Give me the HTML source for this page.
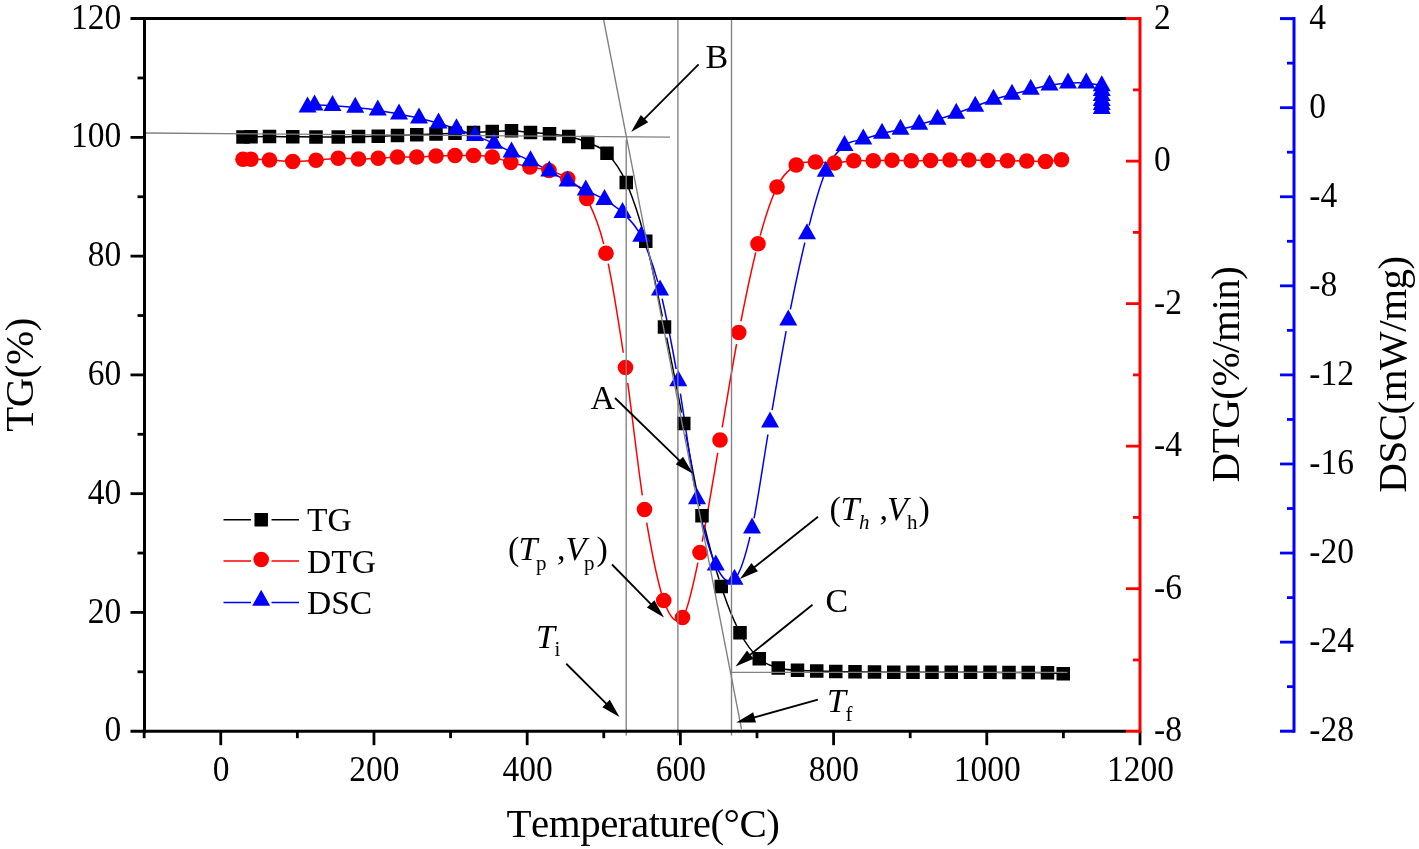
<!DOCTYPE html>
<html lang="en"><head><meta charset="utf-8"><title>TG / DTG / DSC curves</title>
<style>html,body{margin:0;padding:0;background:#fff;overflow:hidden}body{width:1419px;height:849px;font-family:"Liberation Serif", serif}</style></head>
<body>
<svg width="1419" height="849" viewBox="0 0 1419 849" style="display:block;will-change:transform;font-family:'Liberation Serif', serif">
<rect width="1419" height="849" fill="#fff"/>
<path d="M243 137C244.33 136.96 246.58 136.83 251 136.75M251 136.75C255.42 136.67 262.54 136.5 269.5 136.5M269.5 136.5C276.46 136.5 285 136.67 292.75 136.75M292.75 136.75C300.5 136.83 308.42 136.96 316 137M316 137C323.58 137.04 331.17 137.08 338.25 137M338.25 137C345.33 136.92 351.83 136.62 358.5 136.5M358.5 136.5C365.17 136.38 371.75 136.42 378.25 136.25M378.25 136.25C384.75 136.08 391.08 135.75 397.5 135.5M397.5 135.5C403.92 135.25 410.33 135 416.75 134.75M416.75 134.75C423.17 134.5 429.62 134.25 436 134M436 134C442.38 133.75 448.75 133.5 455 133.25M455 133.25C461.25 133 467.29 132.79 473.5 132.5M473.5 132.5C479.71 132.21 485.92 131.79 492.25 131.5M492.25 131.5C498.58 131.21 505.12 130.58 511.5 130.75M511.5 130.75C517.88 130.92 524.17 132 530.5 132.5M530.5 132.5C536.83 133 543.12 133.08 549.5 133.75M549.5 133.75C555.88 134.42 562.38 135.04 568.75 136.5M568.75 136.5C575.12 137.96 581.38 139.71 587.75 142.5M587.75 142.5C594.12 145.29 600.58 146.58 607 153.25M607 153.25C613.42 159.92 619.79 167.83 626.25 182.5M628.49 187.77C633.49 199.99 638.58 215.3 643.54 233.11M647.94 249.83C652.79 269.57 657.49 293.03 662.33 316.5M666.7 337.64C671.63 361.71 676.7 387.82 681.58 412.53M685.89 434.43C690.62 458.94 695.13 484.16 699.86 506.13M704.17 525C709.05 545.35 714.12 563.78 719.05 579.59M723.43 593.04C728.26 607.23 732.99 618.72 737.82 628.49M740 632.75C746.33 644.79 752.88 652.88 759.25 658.75M759.25 658.75C765.62 664.62 771.88 666.08 778.25 668M778.25 668C784.62 669.92 791.08 669.75 797.5 670.25M797.5 670.25C803.92 670.75 810.38 670.79 816.75 671M816.75 671C823.12 671.21 829.38 671.38 835.75 671.5M835.75 671.5C842.12 671.62 848.54 671.67 855 671.75M855 671.75C861.46 671.83 868.04 671.92 874.5 672M874.5 672C880.96 672.08 887.33 672.21 893.75 672.25M893.75 672.25C900.17 672.29 906.62 672.25 913 672.25M913 672.25C919.38 672.25 925.62 672.25 932 672.25M932 672.25C938.38 672.25 944.83 672.25 951.25 672.25M951.25 672.25C957.67 672.25 964.04 672.25 970.5 672.25M970.5 672.25C976.96 672.25 983.58 672.21 990 672.25M990 672.25C996.42 672.29 1002.62 672.46 1009 672.5M1009 672.5C1015.38 672.54 1021.83 672.46 1028.25 672.5M1028.25 672.5C1034.67 672.54 1041.67 672.54 1047.5 672.75M1047.5 672.75C1053.33 672.96 1060.62 673.58 1063.25 673.75" fill="none" stroke="#000" stroke-width="1.5"/>
<path d="M243 159.25C244.33 159.25 246.58 159.12 251 159.25M251 159.25C255.42 159.38 262.54 159.62 269.5 160M269.5 160C276.46 160.38 285 161.46 292.75 161.5M292.75 161.5C300.5 161.54 308.42 160.79 316 160.25M316 160.25C323.58 159.71 331.17 158.46 338.25 158.25M338.25 158.25C345.33 158.04 351.83 159 358.5 159M358.5 159C365.17 159 371.75 158.58 378.25 158.25M378.25 158.25C384.75 157.92 391.08 157.21 397.5 157M397.5 157C403.92 156.79 410.33 157.17 416.75 157M416.75 157C423.17 156.83 429.62 156.25 436 156M436 156C442.38 155.75 448.75 155.58 455 155.5M455 155.5C461.25 155.42 467.29 155.25 473.5 155.5M473.5 155.5C479.71 155.75 486.04 155.83 492.25 157M492.25 157C498.46 158.17 504.46 160.83 510.75 162.5M510.75 162.5C517.04 164.17 523.62 165.67 530 167M530 167C536.38 168.33 542.71 168.54 549 170.5M549 170.5C555.29 172.46 561.46 174.08 567.75 178.75M567.75 178.75C574.04 183.42 580.38 186.08 586.75 198.5M588.95 202.87C593.87 212.87 598.81 224.74 603.77 244.07M608.23 263.55C613.23 287.77 618.3 319.92 623.28 352.76M627.71 382.88C632.61 418.51 637.42 461.97 642.31 495.3M646.71 522.69C651.64 551.65 656.65 577.06 661.56 593.67M663.75 600.5C670.08 618.5 676.46 625.5 682.5 617.5M684.55 614C689.08 604.57 693.24 584.81 697.88 562.59M702.19 541.67C707.17 516.21 712.64 482.65 717.74 452.99M722.21 427.3C727.1 398.88 731.76 370.06 736.58 343.99M740.94 321.26C745.85 296.31 750.86 272.35 755.79 252.41M760.19 235.58C765.08 217.78 769.92 202.97 774.81 191.77M777 187C783.38 173.88 789.83 169.17 796.25 165M796.25 165C802.67 160.83 809.12 162.33 815.5 162M815.5 162C821.88 161.67 828.12 163.21 834.5 163M834.5 163C840.88 162.79 847.29 161.12 853.75 160.75M853.75 160.75C860.21 160.38 866.88 160.83 873.25 160.75M873.25 160.75C879.62 160.67 885.67 160.25 892 160.25M892 160.25C898.33 160.25 904.83 160.71 911.25 160.75M911.25 160.75C917.67 160.79 924.04 160.62 930.5 160.5M930.5 160.5C936.96 160.38 943.62 160.08 950 160M950 160C956.38 159.92 962.42 159.92 968.75 160M968.75 160C975.08 160.08 981.54 160.38 988 160.5M988 160.5C994.46 160.62 1001.04 160.67 1007.5 160.75M1007.5 160.75C1013.96 160.83 1020.42 160.88 1026.75 161M1026.75 161C1033.08 161.12 1039.71 161.71 1045.5 161.5M1045.5 161.5C1051.29 161.29 1058.83 160.04 1061.5 159.75" fill="none" stroke="#f00" stroke-width="1.5"/>
<path d="M307.5 107.17C308.67 106.83 310.33 105.42 314.5 105.17M314.5 105.17C318.67 104.92 325.71 105.29 332.5 105.67M332.5 105.67C339.29 106.04 347.71 106.67 355.25 107.42M355.25 107.42C362.79 108.17 370.46 109.04 377.75 110.17M377.75 110.17C385.04 111.29 392.12 112.83 399 114.17M399 114.17C405.88 115.5 412.42 116.67 419 118.17M419 118.17C425.58 119.67 432.25 121.38 438.5 123.17M438.5 123.17C444.75 124.96 450.42 126.83 456.5 128.92M456.5 128.92C462.58 131 468.75 133.25 475 135.67M475 135.67C481.25 138.08 487.92 140.67 494 143.42M494 143.42C500.08 146.17 505.42 149.25 511.5 152.17M511.5 152.17C517.58 155.08 524.21 157.75 530.5 160.92M530.5 160.92C536.79 164.08 543.08 167.79 549.25 171.17M549.25 171.17C555.42 174.54 561.42 178 567.5 181.17M567.5 181.17C573.58 184.33 579.58 187.08 585.75 190.17M585.75 190.17C591.92 193.25 598.38 195.92 604.5 199.67M604.5 199.67C610.62 203.42 616.38 206.54 622.5 212.67M622.5 212.67C628.62 218.79 635 223.5 641.25 236.42M643.41 241.03C648.23 251.69 653.09 264.86 657.87 282.14M662.12 298.78C666.83 318.65 671.42 342.81 676.13 369.04M680.38 393.56C685.16 423.09 690.02 460.42 694.84 487.52M699.16 509.17C703.97 531.29 708.78 548.32 713.59 560.19M715.75 565.17C722 578.58 728.46 585.58 734.5 579.42M736.57 576.79C741.14 569.85 745.47 555.74 749.97 536.91M754.05 518.42C758.62 495.19 763.27 462.74 767.92 434.5M772.08 410.16C776.74 383.3 781.4 356.07 786.13 331.16M790.38 309.4C795.16 285.51 800.02 262.66 804.84 242.67M809.16 225.44C813.97 206.74 818.78 189.54 823.59 176.81M825.75 171.42C832 156.71 838.25 151.04 844.5 145.67M844.5 145.67C850.75 140.29 857 141.21 863.25 139.17M863.25 139.17C869.5 137.12 875.79 135.04 882 133.42M882 133.42C888.21 131.79 894.29 130.92 900.5 129.42M900.5 129.42C906.71 127.92 913.08 126.08 919.25 124.42M919.25 124.42C925.42 122.75 931.33 121.25 937.5 119.42M937.5 119.42C943.67 117.58 949.96 115.58 956.25 113.42M956.25 113.42C962.54 111.25 969.04 108.75 975.25 106.42M975.25 106.42C981.46 104.08 987.38 101.42 993.5 99.42M993.5 99.42C999.62 97.42 1005.79 96.08 1012 94.42M1012 94.42C1018.21 92.75 1024.5 90.96 1030.75 89.42M1030.75 89.42C1037 87.88 1043.29 86.21 1049.5 85.17M1049.5 85.17C1055.71 84.12 1061.88 83.5 1068 83.17M1068 83.17C1074.12 82.83 1080.62 82.71 1086.25 83.17M1086.25 83.17C1091.88 83.62 1099.17 84.67 1101.75 85.92M1101.75 85.92C1104.33 87.17 1101.75 89.04 1101.75 90.67M1101.75 90.67C1101.75 92.29 1101.75 94 1101.75 95.67M1101.75 95.67C1101.75 97.33 1101.75 99.17 1101.75 100.67M1101.75 100.67C1101.75 102.17 1101.75 103.33 1101.75 104.67M1101.75 104.67C1101.75 106 1101.75 108 1101.75 108.67" fill="none" stroke="#00f" stroke-width="1.5"/>
<g fill="#000"><rect x="236.25" y="130.25" width="13.5" height="13.5"/><rect x="244.25" y="130" width="13.5" height="13.5"/><rect x="262.75" y="129.75" width="13.5" height="13.5"/><rect x="286" y="130" width="13.5" height="13.5"/><rect x="309.25" y="130.25" width="13.5" height="13.5"/><rect x="331.5" y="130.25" width="13.5" height="13.5"/><rect x="351.75" y="129.75" width="13.5" height="13.5"/><rect x="371.5" y="129.5" width="13.5" height="13.5"/><rect x="390.75" y="128.75" width="13.5" height="13.5"/><rect x="410" y="128" width="13.5" height="13.5"/><rect x="429.25" y="127.25" width="13.5" height="13.5"/><rect x="448.25" y="126.5" width="13.5" height="13.5"/><rect x="466.75" y="125.75" width="13.5" height="13.5"/><rect x="485.5" y="124.75" width="13.5" height="13.5"/><rect x="504.75" y="124" width="13.5" height="13.5"/><rect x="523.75" y="125.75" width="13.5" height="13.5"/><rect x="542.75" y="127" width="13.5" height="13.5"/><rect x="562" y="129.75" width="13.5" height="13.5"/><rect x="581" y="135.75" width="13.5" height="13.5"/><rect x="600.25" y="146.5" width="13.5" height="13.5"/><rect x="619.5" y="175.75" width="13.5" height="13.5"/><rect x="639" y="234.5" width="13.5" height="13.5"/><rect x="657.75" y="320.25" width="13.5" height="13.5"/><rect x="677" y="416.75" width="13.5" height="13.5"/><rect x="695.25" y="509" width="13.5" height="13.5"/><rect x="714.5" y="579.75" width="13.5" height="13.5"/><rect x="733.25" y="626" width="13.5" height="13.5"/><rect x="752.5" y="652" width="13.5" height="13.5"/><rect x="771.5" y="661.25" width="13.5" height="13.5"/><rect x="790.75" y="663.5" width="13.5" height="13.5"/><rect x="810" y="664.25" width="13.5" height="13.5"/><rect x="829" y="664.75" width="13.5" height="13.5"/><rect x="848.25" y="665" width="13.5" height="13.5"/><rect x="867.75" y="665.25" width="13.5" height="13.5"/><rect x="887" y="665.5" width="13.5" height="13.5"/><rect x="906.25" y="665.5" width="13.5" height="13.5"/><rect x="925.25" y="665.5" width="13.5" height="13.5"/><rect x="944.5" y="665.5" width="13.5" height="13.5"/><rect x="963.75" y="665.5" width="13.5" height="13.5"/><rect x="983.25" y="665.5" width="13.5" height="13.5"/><rect x="1002.25" y="665.75" width="13.5" height="13.5"/><rect x="1021.5" y="665.75" width="13.5" height="13.5"/><rect x="1040.75" y="666" width="13.5" height="13.5"/><rect x="1056.5" y="667" width="13.5" height="13.5"/></g>
<g fill="#f00"><circle cx="243" cy="159.25" r="7.8"/><circle cx="251" cy="159.25" r="7.8"/><circle cx="269.5" cy="160" r="7.8"/><circle cx="292.75" cy="161.5" r="7.8"/><circle cx="316" cy="160.25" r="7.8"/><circle cx="338.25" cy="158.25" r="7.8"/><circle cx="358.5" cy="159" r="7.8"/><circle cx="378.25" cy="158.25" r="7.8"/><circle cx="397.5" cy="157" r="7.8"/><circle cx="416.75" cy="157" r="7.8"/><circle cx="436" cy="156" r="7.8"/><circle cx="455" cy="155.5" r="7.8"/><circle cx="473.5" cy="155.5" r="7.8"/><circle cx="492.25" cy="157" r="7.8"/><circle cx="510.75" cy="162.5" r="7.8"/><circle cx="530" cy="167" r="7.8"/><circle cx="549" cy="170.5" r="7.8"/><circle cx="567.75" cy="178.75" r="7.8"/><circle cx="586.75" cy="198.5" r="7.8"/><circle cx="606" cy="253.25" r="7.8"/><circle cx="625.5" cy="367.5" r="7.8"/><circle cx="644.5" cy="509.5" r="7.8"/><circle cx="663.75" cy="600.5" r="7.8"/><circle cx="682.5" cy="617.5" r="7.8"/><circle cx="700" cy="552.5" r="7.8"/><circle cx="720" cy="440" r="7.8"/><circle cx="738.75" cy="332.5" r="7.8"/><circle cx="758" cy="243.75" r="7.8"/><circle cx="777" cy="187" r="7.8"/><circle cx="796.25" cy="165" r="7.8"/><circle cx="815.5" cy="162" r="7.8"/><circle cx="834.5" cy="163" r="7.8"/><circle cx="853.75" cy="160.75" r="7.8"/><circle cx="873.25" cy="160.75" r="7.8"/><circle cx="892" cy="160.25" r="7.8"/><circle cx="911.25" cy="160.75" r="7.8"/><circle cx="930.5" cy="160.5" r="7.8"/><circle cx="950" cy="160" r="7.8"/><circle cx="968.75" cy="160" r="7.8"/><circle cx="988" cy="160.5" r="7.8"/><circle cx="1007.5" cy="160.75" r="7.8"/><circle cx="1026.75" cy="161" r="7.8"/><circle cx="1045.5" cy="161.5" r="7.8"/><circle cx="1061.5" cy="159.75" r="7.8"/></g>
<g fill="#00f"><path d="M307.5 96.5L316.5 112.5H298.5Z"/><path d="M314.5 94.5L323.5 110.5H305.5Z"/><path d="M332.5 95L341.5 111H323.5Z"/><path d="M355.25 96.75L364.25 112.75H346.25Z"/><path d="M377.75 99.5L386.75 115.5H368.75Z"/><path d="M399 103.5L408 119.5H390Z"/><path d="M419 107.5L428 123.5H410Z"/><path d="M438.5 112.5L447.5 128.5H429.5Z"/><path d="M456.5 118.25L465.5 134.25H447.5Z"/><path d="M475 125L484 141H466Z"/><path d="M494 132.75L503 148.75H485Z"/><path d="M511.5 141.5L520.5 157.5H502.5Z"/><path d="M530.5 150.25L539.5 166.25H521.5Z"/><path d="M549.25 160.5L558.25 176.5H540.25Z"/><path d="M567.5 170.5L576.5 186.5H558.5Z"/><path d="M585.75 179.5L594.75 195.5H576.75Z"/><path d="M604.5 189L613.5 205H595.5Z"/><path d="M622.5 202L631.5 218H613.5Z"/><path d="M641.25 225.75L650.25 241.75H632.25Z"/><path d="M660 279.5L669 295.5H651Z"/><path d="M678.25 370.25L687.25 386.25H669.25Z"/><path d="M697 488.25L706 504.25H688Z"/><path d="M715.75 554.5L724.75 570.5H706.75Z"/><path d="M734.5 568.75L743.5 584.75H725.5Z"/><path d="M752 517.5L761 533.5H743Z"/><path d="M770 411.5L779 427.5H761Z"/><path d="M788.25 309.5L797.25 325.5H779.25Z"/><path d="M807 223.25L816 239.25H798Z"/><path d="M825.75 160.75L834.75 176.75H816.75Z"/><path d="M844.5 135L853.5 151H835.5Z"/><path d="M863.25 128.5L872.25 144.5H854.25Z"/><path d="M882 122.75L891 138.75H873Z"/><path d="M900.5 118.75L909.5 134.75H891.5Z"/><path d="M919.25 113.75L928.25 129.75H910.25Z"/><path d="M937.5 108.75L946.5 124.75H928.5Z"/><path d="M956.25 102.75L965.25 118.75H947.25Z"/><path d="M975.25 95.75L984.25 111.75H966.25Z"/><path d="M993.5 88.75L1002.5 104.75H984.5Z"/><path d="M1012 83.75L1021 99.75H1003Z"/><path d="M1030.75 78.75L1039.75 94.75H1021.75Z"/><path d="M1049.5 74.5L1058.5 90.5H1040.5Z"/><path d="M1068 72.5L1077 88.5H1059Z"/><path d="M1086.25 72.5L1095.25 88.5H1077.25Z"/><path d="M1101.75 75.25L1110.75 91.25H1092.75Z"/><path d="M1101.75 80L1110.75 96H1092.75Z"/><path d="M1101.75 85L1110.75 101H1092.75Z"/><path d="M1101.75 90L1110.75 106H1092.75Z"/><path d="M1101.75 94L1110.75 110H1092.75Z"/><path d="M1101.75 98L1110.75 114H1092.75Z"/></g>
<g stroke="#808080" stroke-width="1.35" fill="none">
<line x1="145" y1="133" x2="670" y2="137.1"/>
<line x1="603.3" y1="18" x2="741.5" y2="729"/>
<line x1="626.2" y1="139.8" x2="626.2" y2="735.5"/>
<line x1="677.9" y1="18" x2="677.9" y2="735.5"/>
<line x1="731.5" y1="18" x2="731.5" y2="735.5"/>
<line x1="731.5" y1="672.4" x2="1067.5" y2="672.4"/>
</g>
<g stroke="#000" stroke-width="3" fill="none" stroke-linecap="butt">
<line x1="144.5" y1="17.1" x2="144.5" y2="732.7"/>
<line x1="130.5" y1="18.6" x2="1126.0" y2="18.6"/>
<line x1="130.5" y1="731.2" x2="1126.0" y2="731.2"/>
</g>
<g stroke="#000" stroke-width="2.8" fill="none">
<line x1="137.5" y1="671.82" x2="144.5" y2="671.82"/>
<line x1="130.5" y1="612.43" x2="144.5" y2="612.43"/>
<line x1="137.5" y1="553.05" x2="144.5" y2="553.05"/>
<line x1="130.5" y1="493.67" x2="144.5" y2="493.67"/>
<line x1="137.5" y1="434.28" x2="144.5" y2="434.28"/>
<line x1="130.5" y1="374.9" x2="144.5" y2="374.9"/>
<line x1="137.5" y1="315.52" x2="144.5" y2="315.52"/>
<line x1="130.5" y1="256.13" x2="144.5" y2="256.13"/>
<line x1="137.5" y1="196.75" x2="144.5" y2="196.75"/>
<line x1="130.5" y1="137.37" x2="144.5" y2="137.37"/>
<line x1="137.5" y1="77.98" x2="144.5" y2="77.98"/>
<line x1="144.15" y1="731.2" x2="144.15" y2="738.2"/>
<line x1="220.75" y1="731.2" x2="220.75" y2="745.2"/>
<line x1="297.35" y1="731.2" x2="297.35" y2="738.2"/>
<line x1="373.96" y1="731.2" x2="373.96" y2="745.2"/>
<line x1="450.56" y1="731.2" x2="450.56" y2="738.2"/>
<line x1="527.17" y1="731.2" x2="527.17" y2="745.2"/>
<line x1="603.77" y1="731.2" x2="603.77" y2="738.2"/>
<line x1="680.38" y1="731.2" x2="680.38" y2="745.2"/>
<line x1="756.98" y1="731.2" x2="756.98" y2="738.2"/>
<line x1="833.58" y1="731.2" x2="833.58" y2="745.2"/>
<line x1="910.19" y1="731.2" x2="910.19" y2="738.2"/>
<line x1="986.79" y1="731.2" x2="986.79" y2="745.2"/>
<line x1="1063.4" y1="731.2" x2="1063.4" y2="738.2"/>
<line x1="1140" y1="731.2" x2="1140" y2="745.2"/>
</g>
<g stroke="#f00" stroke-width="3" fill="none">
<line x1="1140.0" y1="17.1" x2="1140.0" y2="732.7"/>
<line x1="1126.0" y1="18.6" x2="1140.0" y2="18.6"/>
<line x1="1126.0" y1="731.2" x2="1140.0" y2="731.2"/>
</g>
<g stroke="#f00" stroke-width="2.8" fill="none">
<line x1="1133" y1="89.86" x2="1140.0" y2="89.86"/>
<line x1="1126" y1="161.12" x2="1140.0" y2="161.12"/>
<line x1="1133" y1="232.38" x2="1140.0" y2="232.38"/>
<line x1="1126" y1="303.64" x2="1140.0" y2="303.64"/>
<line x1="1133" y1="374.9" x2="1140.0" y2="374.9"/>
<line x1="1126" y1="446.16" x2="1140.0" y2="446.16"/>
<line x1="1133" y1="517.42" x2="1140.0" y2="517.42"/>
<line x1="1126" y1="588.68" x2="1140.0" y2="588.68"/>
<line x1="1133" y1="659.94" x2="1140.0" y2="659.94"/>
</g>
<g stroke="#00f" stroke-width="3" fill="none">
<line x1="1294.0" y1="17.1" x2="1294.0" y2="732.7"/>
<line x1="1280.0" y1="18.6" x2="1294.0" y2="18.6"/>
<line x1="1280.0" y1="731.2" x2="1294.0" y2="731.2"/>
</g>
<g stroke="#00f" stroke-width="2.8" fill="none">
<line x1="1287" y1="63.14" x2="1294.0" y2="63.14"/>
<line x1="1280" y1="107.68" x2="1294.0" y2="107.68"/>
<line x1="1287" y1="152.21" x2="1294.0" y2="152.21"/>
<line x1="1280" y1="196.75" x2="1294.0" y2="196.75"/>
<line x1="1287" y1="241.29" x2="1294.0" y2="241.29"/>
<line x1="1280" y1="285.83" x2="1294.0" y2="285.83"/>
<line x1="1287" y1="330.36" x2="1294.0" y2="330.36"/>
<line x1="1280" y1="374.9" x2="1294.0" y2="374.9"/>
<line x1="1287" y1="419.44" x2="1294.0" y2="419.44"/>
<line x1="1280" y1="463.98" x2="1294.0" y2="463.98"/>
<line x1="1287" y1="508.51" x2="1294.0" y2="508.51"/>
<line x1="1280" y1="553.05" x2="1294.0" y2="553.05"/>
<line x1="1287" y1="597.59" x2="1294.0" y2="597.59"/>
<line x1="1280" y1="642.12" x2="1294.0" y2="642.12"/>
<line x1="1287" y1="686.66" x2="1294.0" y2="686.66"/>
</g>
<g font-size="33.5" fill="#000">
<text transform="translate(121.3 741.3) scale(1 1.05)" text-anchor="end">0</text>
<text transform="translate(121.3 622.53) scale(1 1.05)" text-anchor="end">20</text>
<text transform="translate(121.3 503.77) scale(1 1.05)" text-anchor="end">40</text>
<text transform="translate(121.3 385) scale(1 1.05)" text-anchor="end">60</text>
<text transform="translate(121.3 266.23) scale(1 1.05)" text-anchor="end">80</text>
<text transform="translate(121.3 147.47) scale(1 1.05)" text-anchor="end">100</text>
<text transform="translate(121.3 28.7) scale(1 1.05)" text-anchor="end">120</text>
<text transform="translate(221.15 780.8) scale(1 1.05)" text-anchor="middle">0</text>
<text transform="translate(374.36 780.8) scale(1 1.05)" text-anchor="middle">200</text>
<text transform="translate(527.57 780.8) scale(1 1.05)" text-anchor="middle">400</text>
<text transform="translate(680.77 780.8) scale(1 1.05)" text-anchor="middle">600</text>
<text transform="translate(833.98 780.8) scale(1 1.05)" text-anchor="middle">800</text>
<text transform="translate(987.19 780.8) scale(1 1.05)" text-anchor="middle">1000</text>
<text transform="translate(1140.4 780.8) scale(1 1.05)" text-anchor="middle">1200</text>
<text transform="translate(1154 28.7) scale(1 1.05)" text-anchor="start">2</text>
<text transform="translate(1154 171.22) scale(1 1.05)" text-anchor="start">0</text>
<text transform="translate(1154 313.74) scale(1 1.05)" text-anchor="start">-2</text>
<text transform="translate(1154 456.26) scale(1 1.05)" text-anchor="start">-4</text>
<text transform="translate(1154 598.78) scale(1 1.05)" text-anchor="start">-6</text>
<text transform="translate(1154 741.3) scale(1 1.05)" text-anchor="start">-8</text>
<text transform="translate(1309.3 28.7) scale(1 1.05)" text-anchor="start">4</text>
<text transform="translate(1309.3 117.78) scale(1 1.05)" text-anchor="start">0</text>
<text transform="translate(1309.3 206.85) scale(1 1.05)" text-anchor="start">-4</text>
<text transform="translate(1309.3 295.93) scale(1 1.05)" text-anchor="start">-8</text>
<text transform="translate(1309.3 385) scale(1 1.05)" text-anchor="start">-12</text>
<text transform="translate(1309.3 474.08) scale(1 1.05)" text-anchor="start">-16</text>
<text transform="translate(1309.3 563.15) scale(1 1.05)" text-anchor="start">-20</text>
<text transform="translate(1309.3 652.23) scale(1 1.05)" text-anchor="start">-24</text>
<text transform="translate(1309.3 741.3) scale(1 1.05)" text-anchor="start">-28</text>
</g>
<g font-size="41" fill="#000" text-anchor="middle" style="font-kerning:none" letter-spacing="-0.5">
<text x="643" y="837">Temperature(°C)</text>
<text transform="translate(33 375) rotate(-90)">TG(%)</text>
<text transform="translate(1239 374.5) rotate(-90)">DTG(%/min)</text>
<text transform="translate(1406 374.5) rotate(-90)">DSC(mW/mg)</text>
</g>
<path d="M223.5 519.75H251M271.5 519.75H299" stroke="#000" stroke-width="1.5" fill="none"/>
<rect x="254.45" y="513" width="13.5" height="13.5" fill="#000"/>
<text x="307" y="531" font-size="33.5">TG</text>
<path d="M223.5 561H251M271.5 561H299" stroke="#f00" stroke-width="1.5" fill="none"/>
<circle cx="261.2" cy="559.5" r="7.8" fill="#f00"/>
<text x="307" y="572.7" font-size="33.5">DTG</text>
<path d="M223.5 602.6H251M271.5 602.6H299" stroke="#00f" stroke-width="1.5" fill="none"/>
<path d="M261.2 589.83L270.2 605.83H252.2Z" fill="#00f"/>
<text x="307" y="613.8" font-size="33.5">DSC</text>
<line x1="698.6" y1="64.4" x2="643.1" y2="120.06" stroke="#000" stroke-width="1.8"/>
<path d="M631.1 132.1L640.8 114.94L648.23 122.35Z" fill="#000"/>
<line x1="615" y1="398" x2="680.8" y2="461.91" stroke="#000" stroke-width="1.8"/>
<path d="M693 473.75L675.71 464.28L683.03 456.75Z" fill="#000"/>
<line x1="612" y1="564.5" x2="652.09" y2="605.37" stroke="#000" stroke-width="1.8"/>
<path d="M664 617.5L646.95 607.61L654.44 600.26Z" fill="#000"/>
<line x1="818" y1="516.7" x2="753.1" y2="568.32" stroke="#000" stroke-width="1.8"/>
<path d="M739.8 578.9L751.4 562.96L757.94 571.18Z" fill="#000"/>
<line x1="812.5" y1="604.7" x2="748.76" y2="655.86" stroke="#000" stroke-width="1.8"/>
<path d="M735.5 666.5L747.03 650.51L753.6 658.7Z" fill="#000"/>
<line x1="566.25" y1="663.75" x2="607.48" y2="704.98" stroke="#000" stroke-width="1.8"/>
<path d="M619.5 717L602.35 707.28L609.78 699.85Z" fill="#000"/>
<line x1="817.9" y1="699.6" x2="752.67" y2="717.91" stroke="#000" stroke-width="1.8"/>
<path d="M736.3 722.5L753.17 712.31L756.01 722.42Z" fill="#000"/>
<g font-size="34" fill="#000">
<text x="705.5" y="68">B</text>
<text x="590.5" y="409">A</text>
<text x="825.5" y="611.5">C</text>
<text x="508" y="559.8">(</text>
<text x="518.6" y="559.8" font-style="italic">T</text>
<text x="536" y="569.5" font-size="21">p</text>
<text x="557" y="559.8">,</text>
<text x="565.5" y="559.8" font-style="italic">V</text>
<text x="584" y="569.5" font-size="21">p</text>
<text x="596.5" y="559.8">)</text>
<text x="829.5" y="520">(</text>
<text x="840.6" y="520" font-style="italic">T</text>
<text x="859" y="528.6" font-size="21" font-style="italic">h</text>
<text x="879.5" y="520">,</text>
<text x="887" y="520" font-style="italic">V</text>
<text x="907" y="528.6" font-size="21">h</text>
<text x="918.5" y="520">)</text>
<text x="536" y="648.2" font-style="italic">T</text>
<text x="554.5" y="656.2" font-size="21">i</text>
<text x="827" y="712" font-style="italic">T</text>
<text x="845.5" y="720.6" font-size="21">f</text>
</g>
</svg>
</body></html>
